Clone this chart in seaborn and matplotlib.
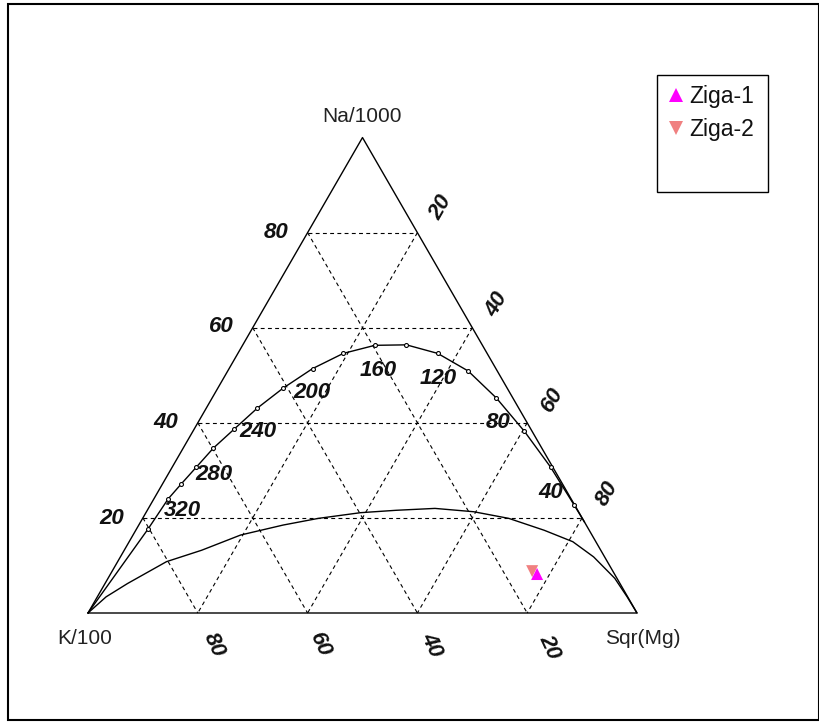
import numpy as np
import pandas as pd
import seaborn as sns
import matplotlib.pyplot as plt
from matplotlib.patches import Rectangle
from matplotlib.lines import Line2D

# full equilibrium line, marked points (percent of Na/1000 and Sqr(Mg), K/100 is the rest)
eq_na = [17.6, 24.0, 27.1, 30.7, 34.7, 38.7, 43.1, 47.3, 51.4, 54.6, 56.3,
         56.4, 54.6, 50.9, 45.2, 38.2, 30.7, 22.8]
eq_mg = [2.1, 2.6, 3.4, 4.4, 5.5, 7.3, 9.3, 11.9, 15.2, 19.2, 24.1,
         29.8, 36.4, 43.8, 51.8, 60.4, 68.9, 77.1]
eq_start = (0.0, 0.0)     # (na, mg) at the K/100 corner
eq_end = (19.1, 80.9)     # where the line meets the Na-Mg side

# immature waters line
im_na = [0, 3.4, 6.2, 10.8, 13.2, 16.4, 18.5, 19.9, 21.1, 21.6, 22.0,
         21.3, 19.9, 17.4, 15.0, 11.8, 7.3, 3.4, 0]
im_mg = [0, 1.6, 4.1, 8.9, 14.1, 19.6, 26.3, 32.0, 39.1, 45.3, 52.2,
         59.6, 66.7, 74.4, 80.8, 86.2, 92.3, 96.5, 100]

# temperature labels (deg C) along the equilibrium line
temp_labels = ['320', '280', '240', '200', '160', '120', '80', '40']
temp_pos_px = [(182, 511), (214, 474), (258, 432), (312, 393),
               (378, 371), (438, 378), (498, 423), (551, 493)]

# samples
samples = ['Ziga-1', 'Ziga-2']
smp_na = [8.2, 8.8]
smp_mg = [77.7, 76.5]

grid_pct = [20, 40, 60, 80]

W, H = 820, 722
K0 = (88, 613)   # K corner in pixels
L = 549          # side length in pixels


def tern(na, mg):
    na = np.asarray(na, float) / 100
    mg = np.asarray(mg, float) / 100
    return mg + na / 2, na * np.sqrt(3) / 2


def fpos(px, py):
    return px / W, 1 - py / H


sns.set_style('white')
plt.rcParams['font.family'] = ['Liberation Sans', 'DejaVu Sans']

fig = plt.figure(figsize=(W / 100, H / 100), dpi=100)
ax = fig.add_axes([0, 0, 1, 1])
ax.set_xlim(-K0[0] / L, (W - K0[0]) / L)
ax.set_ylim(-(H - K0[1]) / L, K0[1] / L)
ax.axis('off')

# dashed grid
for p in grid_pct:
    q = 100 - p
    segs = [((p, 0), (p, q)),      # constant Na
            ((q, 0), (0, q)),      # constant K
            ((q, p), (0, p))]      # constant Mg
    for (n1, m1), (n2, m2) in segs:
        x, y = tern([n1, n2], [m1, m2])
        ax.plot(x, y, color='black', lw=0.8, ls=(0, (3.5, 3)))

# triangle
tx, ty = tern([0, 0, 100, 0], [0, 100, 0, 0])
ax.plot(tx, ty, color='black', lw=1)

# curves
ex, ey = tern([eq_start[0]] + eq_na + [eq_end[0]], [eq_start[1]] + eq_mg + [eq_end[1]])
eq_df = pd.DataFrame({'x': ex, 'y': ey})
sns.lineplot(data=eq_df, x='x', y='y', sort=False, estimator=None,
             color='black', lw=1, ax=ax)
mx, my = tern(eq_na, eq_mg)
sns.scatterplot(x=mx, y=my, marker='o', s=8, facecolor='white',
                edgecolor='black', linewidth=0.8, ax=ax, zorder=4)

ix, iy = tern(im_na, im_mg)
im_df = pd.DataFrame({'x': ix, 'y': iy})
sns.lineplot(data=im_df, x='x', y='y', sort=False, estimator=None,
             color='black', lw=1, ax=ax)

# samples
sx, sy = tern(smp_na, smp_mg)
smp_df = pd.DataFrame({'x': sx, 'y': sy, 'sample': samples})
colors = {'Ziga-1': '#ff00ff', 'Ziga-2': '#f08080'}
marks = {'Ziga-1': '^', 'Ziga-2': 'v'}
for name in ['Ziga-2', 'Ziga-1']:
    sub = smp_df[smp_df['sample'] == name]
    sns.scatterplot(data=sub, x='x', y='y', marker=marks[name], s=75,
                    color=colors[name], edgecolor='none', ax=ax, zorder=5, legend=False)

ax.set_xlabel('')
ax.set_ylabel('')

# axis labels
tick_kw = dict(fontsize=16, fontweight='bold', fontstyle='italic',
               ha='center', va='center', color='#111111',
               family=['Liberation Sans', 'DejaVu Sans'])
left_px = [(112, 518), (166, 423), (221, 327), (276, 232)]
right_px = [(441, 208), (497, 305), (552, 400), (607, 494)]
bottom_px = [(214, 645), (320, 645), (432, 645), (550, 647)]
for p, (px, py) in zip(grid_pct, left_px):
    fig.text(*fpos(px, py), str(p), **tick_kw)
for p, (px, py) in zip(grid_pct, right_px):
    fig.text(*fpos(px, py), str(p), rotation=60, **tick_kw)
for p, (px, py) in zip(grid_pct[::-1], bottom_px):
    fig.text(*fpos(px, py), str(p), rotation=-65, **tick_kw)

for lab, (px, py) in zip(temp_labels, temp_pos_px):
    fig.text(*fpos(px, py), lab, **tick_kw)

vkw = dict(fontsize=15, ha='center', va='center', color='#222222')
fig.text(*fpos(362, 117), 'Na/1000', **vkw)
fig.text(*fpos(85, 638), 'K/100', **vkw)
fig.text(*fpos(643, 638), 'Sqr(Mg)', **vkw)

# legend
fig.patches.append(Rectangle(fpos(657, 192), (768 - 657) / W, (192 - 75) / H,
                             transform=fig.transFigure, fill=False,
                             edgecolor='black', lw=1))
for i, name in enumerate(samples):
    my_ = 95 + 33 * i
    fig.add_artist(Line2D([676 / W], [1 - my_ / H], transform=fig.transFigure,
                          ls='none', marker=marks[name], color=colors[name],
                          markersize=9.5, markeredgewidth=0))
    fig.text(*fpos(689, my_ + 8), name, fontsize=16.5, ha='left',
             va='baseline', color='#111111')

# outer frame
fig.patches.append(Rectangle(fpos(8, 720), (819 - 8) / W, (720 - 4) / H,
                             transform=fig.transFigure, fill=False,
                             edgecolor='black', lw=1.5))

fig.savefig('out.png', dpi=100)
